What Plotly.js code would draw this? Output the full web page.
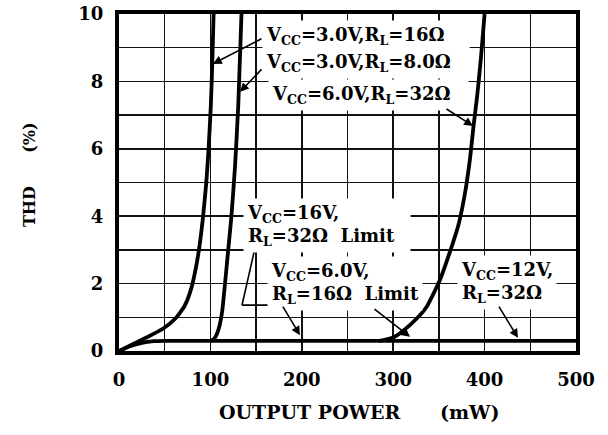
<!DOCTYPE html>
<html>
<head>
<meta charset="utf-8">
<script src="https://cdn.plot.ly/plotly-3.0.1.min.js"></script>
<style>html,body{margin:0;padding:0;background:#fff;}#chart{width:608px;height:435px;}</style>
</head>
<body>
<div id="chart"></div>
<script>
// Output power (mW) and THD (%)
const p3v16 = [0, 15, 30, 48, 62, 72, 79, 84, 88, 92, 95.5, 98, 100.5, 102, 103.5];
const thd3v16 = [0, 0.2, 0.4, 0.66, 0.97, 1.35, 1.85, 2.45, 3.1, 4.0, 5.0, 6.0, 7.3, 8.5, 10];

const pBase = [0, 12, 25, 38, 50, 100, 150, 200, 250, 300, 350, 400, 450, 500];
const thdBase = [0, 0.14, 0.24, 0.29, 0.3, 0.3, 0.3, 0.3, 0.3, 0.3, 0.3, 0.3, 0.3, 0.3];

const p3v8 = [100, 104, 107, 110, 113, 116, 119.5, 123, 127, 130.5, 134];
const thd3v8 = [0.3, 0.36, 0.5, 0.75, 1.2, 2.0, 3.0, 4.0, 5.5, 7.3, 10];

const p6v32 = [285, 300, 311, 326, 337, 351, 364, 371, 378, 384, 388, 392, 396, 400];
const thd6v32 = [0.3, 0.4, 0.6, 0.97, 1.33, 2.1, 3.1, 3.7, 4.6, 5.7, 6.7, 7.6, 8.7, 10];

const xTicks = [0, 100, 200, 300, 400, 500];
const yTicks = [0, 2, 4, 6, 8, 10];

// connector of the "16V, 32Ω Limit" label (elbow) in data units
const elbowX = [148.8, 134.6, 178.3];
const elbowY = [3.06, 1.36, 1.36];

const FONT = "DejaVu Serif";
const NB = '\u00a0';

const traces = [
  {x: p3v16, y: thd3v16},
  {x: pBase, y: thdBase},
  {x: p3v8, y: thd3v8},
  {x: p6v32, y: thd6v32}
].map(t => Object.assign(t, {mode: 'lines', line: {color: '#000', width: 3.8, shape: 'spline', smoothing: 0.5}, hoverinfo: 'skip', showlegend: false}));

const tf = {family: FONT, size: 18, color: '#000', weight: 700};
function label(text, x, y, w) {
  const a = {text: text, x: x, y: y, xref: 'x', yref: 'y', xanchor: 'left', yanchor: 'middle',
    showarrow: false, align: 'left', font: tf, bgcolor: '#fff', borderpad: 3};
  if (w) a.width = w;
  return a;
}
function arrow(tx, ty, hx, hy) {
  return {text: '', x: hx, y: hy, ax: tx, ay: ty, xref: 'x', yref: 'y', axref: 'x', ayref: 'y',
    showarrow: true, arrowhead: 2, arrowsize: 1.1, arrowwidth: 1.6, arrowcolor: '#000', standoff: 0, startstandoff: 0};
}

const annotations = [
  label('V<sub>CC</sub>=3.0V,R<sub>L</sub>=16Ω', 156.5, 9.35, 200),
  label('V<sub>CC</sub>=3.0V,R<sub>L</sub>=8.0Ω', 156.5, 8.55, 200),
  label('V<sub>CC</sub>=6.0V,R<sub>L</sub>=32Ω', 163, 7.6, 193),
  label('V<sub>CC</sub>=16V,<br>R<sub>L</sub>=32Ω  Limit', 135.5, 3.72, 160),
  label('V<sub>CC</sub>=6.0V,<br>R<sub>L</sub>=16Ω  Limit', 162, 2.0),
  label('V<sub>CC</sub>=12V,<br>R<sub>L</sub>=32Ω', 370, 2.02),
  arrow(157.5, 9.29, 102.8, 8.52),
  arrow(157.5, 8.40, 132.4, 7.69),
  arrow(356.7, 7.21, 387.3, 6.68),
  arrow(elbowX[2], elbowY[2], 198, 0.47),
  arrow(277.9, 1.28, 318.4, 0.42),
  arrow(414.7, 1.36, 436.5, 0.39),
  // axis titles
  {text: 'OUTPUT POWER' + NB.repeat(6) + '(mW)', xref: 'paper', yref: 'paper', x: 0.526, y: -0.181,
    xanchor: 'center', yanchor: 'middle', showarrow: false,
    font: {family: FONT, size: 19, color: '#000', weight: 700}},
  {text: 'THD' + NB.repeat(6) + '(%)', xref: 'paper', yref: 'paper', x: -0.197, y: 0.525, textangle: -90,
    xanchor: 'center', yanchor: 'middle', showarrow: false,
    font: {family: FONT, size: 16, color: '#000', weight: 700}}
];

const shapes = [];
for (let i = 0; i < elbowX.length - 1; i++) {
  shapes.push({type: 'line', xref: 'x', yref: 'y', x0: elbowX[i], y0: elbowY[i], x1: elbowX[i+1], y1: elbowY[i+1],
    line: {color: '#000', width: 1.6}, layer: 'above'});
}

const axisCommon = {
  showline: true, linecolor: '#000', linewidth: 4, mirror: true,
  showgrid: true, gridcolor: '#111', gridwidth: 1.5,
  zeroline: false, ticks: '', fixedrange: true,
  tickfont: {family: FONT, size: 18, color: '#000', weight: 700}
};

const layout = {
  width: 608, height: 435,
  margin: {l: 119, r: 32, t: 14, b: 84},
  paper_bgcolor: '#fff', plot_bgcolor: '#fff',
  xaxis: Object.assign({}, axisCommon, {
    range: [0, 500], tickvals: xTicks, ticklabelstandoff: 9,
    minor: {dtick: 50, showgrid: true, gridcolor: '#111', gridwidth: 1.5, ticks: ''}
  }),
  yaxis: Object.assign({}, axisCommon, {
    range: [0, 10], tickvals: yTicks, ticklabelstandoff: 8,
    minor: {dtick: 1, showgrid: true, gridcolor: '#111', gridwidth: 1.5, ticks: ''}
  }),
  annotations: annotations,
  shapes: shapes
};

Plotly.newPlot('chart', traces, layout, {staticPlot: true, displayModeBar: false});
</script>
</body>
</html>
